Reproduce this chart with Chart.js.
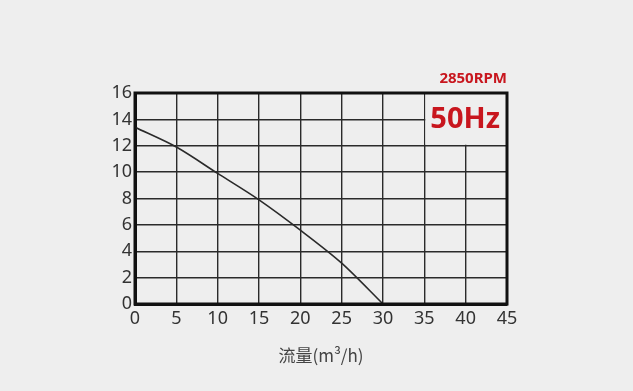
<!DOCTYPE html>
<html lang="zh">
<head>
    <meta charset="UTF-8">
    <title>流量曲线</title>
    <script src="https://cdn.jsdelivr.net/npm/chart.js"></script>
    <style>
        html, body {
            margin: 0;
            padding: 0;
            background-color: #eeeeee;
        }
        .chart-container {
            width: 633px;
            height: 391px;
        }
    </style>
</head>
<body>
    <div class="chart-container">
        <canvas id="pumpChart"></canvas>
    </div>

    <script>
        // flow (m3/h) and head (m)
        const flow = [0, 5, 10, 15, 20, 25, 30];
        const head = [13.4, 11.9, 9.9, 7.9, 5.6, 3.1, 0];
        const speedLabel = "2850RPM";
        const freqLabel = "50Hz";
        const xTitle = "流量(m³/h)";

        const red = "#c8161e";
        const ink = "#2a2a2a";

        // blanks out the top-right grid cells, closes the frame and writes speed / frequency
        const badgePlugin = {
            id: "badge",
            afterDraw(chart) {
                const ctx = chart.ctx;
                const area = chart.chartArea;
                const x = chart.scales.x, y = chart.scales.y;
                const left = x.getPixelForValue(35) + 1;
                const right = area.right;
                const top = area.top;
                const bottom = y.getPixelForValue(12) - 1;
                ctx.save();
                ctx.fillStyle = "#eeeeee";
                ctx.fillRect(left, top, right - left, bottom - top);

                ctx.strokeStyle = "#111";
                ctx.lineWidth = 3;
                ctx.strokeRect(area.left, area.top, area.right - area.left, area.bottom - area.top);

                ctx.fillStyle = red;
                ctx.textAlign = "center";
                ctx.textBaseline = "middle";
                ctx.font = "bold 29px 'Noto Sans'";
                ctx.fillText(freqLabel, (left + right) / 2 - 1, (top + bottom) / 2 + 1);
                ctx.textAlign = "right";
                ctx.textBaseline = "alphabetic";
                ctx.font = "bold 15px 'Noto Sans'";
                ctx.fillText(speedLabel, right, top - 10);
                ctx.restore();
            }
        };

        new Chart(document.getElementById("pumpChart"), {
            type: "scatter",
            data: {
                datasets: [{
                    data: flow.map((f, i) => ({ x: f, y: head[i] })),
                    showLine: true,
                    tension: 0.3,
                    borderColor: ink,
                    borderWidth: 1.6,
                    pointRadius: 0
                }]
            },
            options: {
                responsive: true,
                maintainAspectRatio: false,
                animation: false,
                layout: { padding: { top: 93, right: 126, left: 0, bottom: 21 } },
                plugins: {
                    legend: { display: false },
                    tooltip: { enabled: false }
                },
                scales: {
                    x: {
                        type: "linear",
                        min: 0, max: 45,
                        ticks: { stepSize: 5, color: "#333", padding: 4, font: { family: "'Noto Sans'", size: 18 } },
                        grid: { color: ink, lineWidth: 1.4, drawTicks: false },
                        border: { color: "#111", width: 3 },
                        title: {
                            display: true, text: xTitle, color: "#444",
                            font: { family: "'Noto Sans CJK SC'", size: 17 },
                            padding: { top: 12 }
                        }
                    },
                    y: {
                        min: 0, max: 16,
                        afterFit(scale) { scale.width = 135; },
                        ticks: { stepSize: 2, color: "#333", padding: 3, font: { family: "'Noto Sans'", size: 18 } },
                        grid: { color: ink, lineWidth: 1.4, drawTicks: false },
                        border: { color: "#111", width: 3 }
                    }
                }
            },
            plugins: [badgePlugin]
        });
    </script>
</body>
</html>
